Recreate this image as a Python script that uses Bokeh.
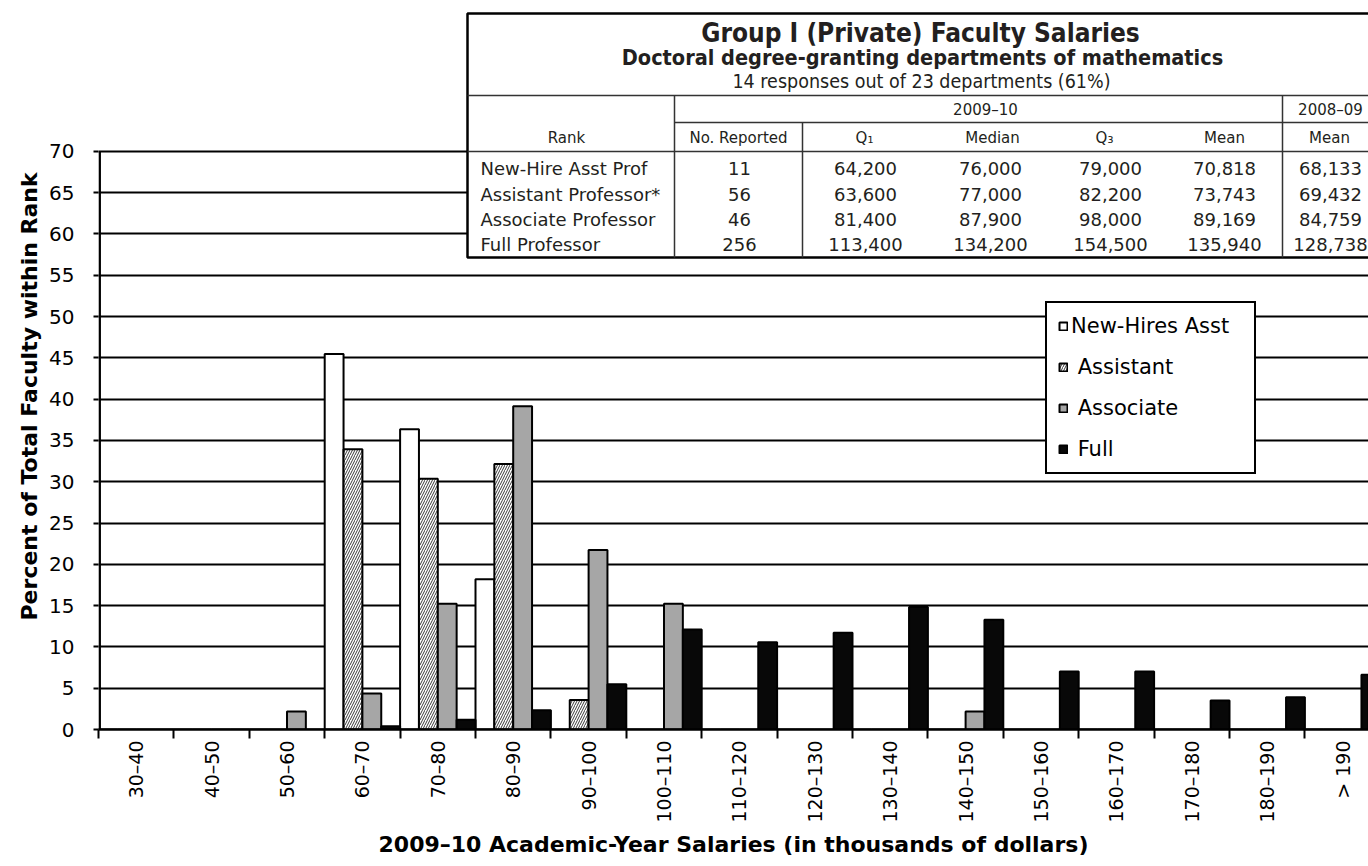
import math
from bokeh.plotting import figure
from bokeh.models import (FixedTicker, Range1d, Legend, LegendItem, ColumnDataSource, Title)
from bokeh.transform import dodge
from bokeh.core.properties import value
from bokeh.embed import file_html
from bokeh.resources import INLINE

# ---------------- data ----------------
categories = ["30–40", "40–50", "50–60", "60–70", "70–80", "80–90", "90–100", "100–110",
              "110–120", "120–130", "130–140", "140–150", "150–160", "160–170", "170–180",
              "180–190", "> 190"]
new_hires = [0, 0, 0, 45.45, 36.36, 18.18, 0, 0, 0, 0, 0, 0, 0, 0, 0, 0, 0]
assistant = [0, 0, 0, 33.93, 30.36, 32.14, 3.57, 0, 0, 0, 0, 0, 0, 0, 0, 0, 0]
associate = [0, 0, 2.17, 4.35, 15.22, 39.13, 21.74, 15.22, 0, 0, 0, 2.17, 0, 0, 0, 0, 0]
full = [0, 0, 0, 0.39, 1.17, 2.34, 5.47, 12.11, 10.55, 11.72, 14.84, 13.28, 7.03, 7.03,
        3.52, 3.91, 6.64]
series_labels = ["New-Hires Asst", "\u00a0Assistant", "\u00a0Associate", "\u00a0Full"]
y_ticks = [0, 5, 10, 15, 20, 25, 30, 35, 40, 45, 50, 55, 60, 65, 70]

table_title = "Group I (Private) Faculty Salaries"
table_subtitle = "Doctoral degree-granting departments of mathematics"
table_note = "14 responses out of 23 departments (61%)"
year_current = "2009–10"
year_prev = "2008–09"
col_headers = ["Rank", "No. Reported", "Q₁", "Median", "Q₃", "Mean", "Mean"]
ranks = ["New-Hire Asst Prof", "Assistant Professor*", "Associate Professor", "Full Professor"]
no_reported = ["11", "56", "46", "256"]
q1 = ["64,200", "63,600", "81,400", "113,400"]
median = ["76,000", "77,000", "87,900", "134,200"]
q3 = ["79,000", "82,200", "98,000", "154,500"]
mean = ["70,818", "73,743", "89,169", "135,940"]
mean_prev = ["68,133", "69,432", "84,759", "128,738"]

x_title = "2009–10 Academic-Year Salaries (in thousands of dollars)"
y_title = "Percent of Total Faculty within Rank"

# ---------------- layout constants ----------------
FONT = "DejaVu Sans"
COND = "DejaVu Sans Condensed"
W, H = 1368, 866
LEFT, BOTTOM = 98, 137
UX = 75.4      # px per category
UY = 8.26      # px per percent
x_end = (W - LEFT) / UX
y_end = (H - BOTTOM) / UY


def dx(px):  # canvas pixel -> data x (for table layout)
    return (px - LEFT) / UX


def dy(py):  # canvas pixel -> data y (for table layout)
    return (H - BOTTOM - py) / UY


p = figure(width=W, height=H, output_backend="svg", toolbar_location=None,
           x_range=Range1d(0, x_end), y_range=Range1d(0, y_end),
           min_border_left=LEFT, min_border_right=0, min_border_top=0,
           min_border_bottom=BOTTOM)
p.outline_line_color = None
p.background_fill_color = "white"
p.border_fill_color = "white"

src = ColumnDataSource(dict(x=[i + 0.5 for i in range(len(categories))],
                            new=new_hires, asst=assistant, assoc=associate, full=full))

common = dict(width=0.25, line_color="black", line_width=2, source=src)
r1 = p.vbar(x=dodge("x", -0.375, range=p.x_range), top="new", fill_color="white", **common)
r2 = p.vbar(x=dodge("x", -0.125, range=p.x_range), top="asst", fill_color="white",
            hatch_pattern="/", hatch_color="#222222", hatch_weight=0.9, hatch_scale=5, **common)
r3 = p.vbar(x=dodge("x", 0.125, range=p.x_range), top="assoc", fill_color="#a6a6a6", **common)
r4 = p.vbar(x=dodge("x", 0.375, range=p.x_range), top="full", fill_color="#080808", **common)

# y axis line only up to 70
p.segment(x0=[dx(99.2)], y0=[0], x1=[dx(99.2)], y1=[y_ticks[-1]], line_color="black",
          line_width=2.5)

# ---------------- axes ----------------
xa = p.xaxis[0]
xa.ticker = FixedTicker(ticks=[i + 0.5 for i in range(len(categories))],
                        minor_ticks=list(range(len(categories) + 1)))
xa.major_label_overrides = {i + 0.5: c for i, c in enumerate(categories)}
xa.major_label_orientation = math.pi / 2
xa.major_tick_out = 0
xa.major_tick_in = 0
xa.minor_tick_out = 9
xa.minor_tick_in = 0
xa.minor_tick_line_width = 2
xa.minor_tick_line_color = "black"
xa.axis_line_width = 2.5
xa.axis_line_color = "black"
xa.major_label_text_font = FONT
xa.major_label_text_font_size = "19px"
xa.major_label_text_color = "black"
xa.major_label_standoff = 2
xa.axis_label = x_title
xa.axis_label_text_font = FONT
xa.axis_label_text_font_style = "bold"
xa.axis_label_text_font_size = "22px"
xa.axis_label_text_color = "black"
xa.axis_label_standoff = 6

ya = p.yaxis[0]
ya.ticker = FixedTicker(ticks=y_ticks, minor_ticks=[])
ya.axis_line_color = None
ya.major_tick_out = 5
ya.major_tick_in = 0
ya.major_tick_line_width = 2
ya.major_tick_line_color = "black"
ya.major_label_text_font = FONT
ya.major_label_text_font_size = "20px"
ya.major_label_text_color = "black"
ya.major_label_standoff = 19

p.xgrid.visible = False
p.ygrid.ticker = FixedTicker(ticks=y_ticks)
p.ygrid.grid_line_color = "black"
p.ygrid.grid_line_width = 2

p.add_layout(Title(text=y_title, align="left", offset=109, text_font=FONT,
                   text_font_style="bold", text_font_size="22px", text_color="black",
                   standoff=10), "left")

# ---------------- legend ----------------
legend = Legend(items=[LegendItem(label=series_labels[0], renderers=[r1]),
                       LegendItem(label=series_labels[1], renderers=[r2]),
                       LegendItem(label=series_labels[2], renderers=[r3]),
                       LegendItem(label=series_labels[3], renderers=[r4])],
                location=(947, 255), orientation="vertical",
                glyph_width=10, glyph_height=10, label_standoff=3, label_width=172,
                label_text_font=FONT, label_text_font_size="21px", label_text_color="black",
                spacing=17, padding=11, margin=0,
                border_line_color="black", border_line_width=2.5, border_line_alpha=1,
                background_fill_color="white", background_fill_alpha=1)
p.add_layout(legend)

# ---------------- table ----------------
p.quad(left=[dx(467)], right=[dx(1420)], top=[dy(13)], bottom=[dy(257)],
       fill_color="white", line_color="black", line_width=2.5)
p.segment(x0=[dx(467), dx(674), dx(467), dx(674), dx(802), dx(1282)],
          y0=[dy(95), dy(122), dy(151), dy(95), dy(122), dy(95)],
          x1=[dx(1420), dx(1420), dx(1420), dx(674), dx(802), dx(1282)],
          y1=[dy(95), dy(122), dy(151), dy(257), dy(257), dy(257)],
          line_color="#333333", line_width=1.5)

p.text(x=[dx(920)], y=[dy(32)], text=[table_title], text_font=value(COND),
       text_font_style="bold", text_font_size="26px", text_align="center",
       text_baseline="middle", text_color="#231f20")
p.text(x=[dx(922)], y=[dy(57)], text=[table_subtitle], text_font=value(COND),
       text_font_style="bold", text_font_size="21.5px", text_align="center",
       text_baseline="middle", text_color="#231f20")
p.text(x=[dx(921)], y=[dy(81)], text=[table_note], text_font=value(COND),
       text_font_size="19.5px", text_align="center", text_baseline="middle",
       text_color="#231f20")
p.text(x=[dx(985), dx(1330)], y=[dy(109), dy(109)], text=[year_current, year_prev],
       text_font=value(FONT), text_font_size="15px", text_align="center",
       text_baseline="middle", text_color="#231f20")
hdr_x = [566, 738, 864, 992, 1104, 1224, 1329]
p.text(x=[dx(v) for v in hdr_x], y=[dy(137)] * len(hdr_x), text=col_headers,
       text_font=value(FONT), text_font_size="15px", text_align="center",
       text_baseline="middle", text_color="#231f20")
row_y = [dy(168), dy(194), dy(219), dy(244)]
p.text(x=[dx(480)] * 4, y=row_y, text=ranks, text_font=value(FONT), text_font_size="18px",
       text_align="left", text_baseline="middle", text_color="#231f20")
for col, cx in zip([no_reported, q1, median, q3, mean, mean_prev],
                   [739, 865, 990, 1110, 1224, 1330]):
    p.text(x=[dx(cx)] * 4, y=row_y, text=col, text_font=value(FONT), text_font_size="18px",
           text_align="center", text_baseline="middle", text_color="#231f20")

open("out.html", "w").write(file_html(p, INLINE))
